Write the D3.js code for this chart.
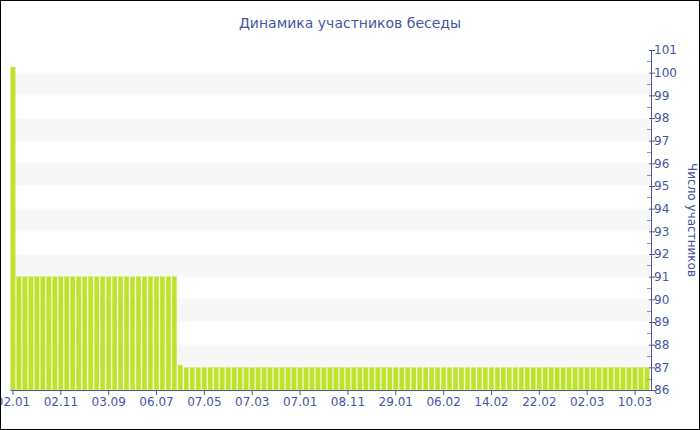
<!DOCTYPE html>
<html>
<head>
<meta charset="utf-8">
<script src="https://cdn.jsdelivr.net/npm/d3@7"></script>
<style>
  body { margin: 0; background: #fff; }
  svg { display: block; font-family: "DejaVu Sans", Verdana, sans-serif; }
</style>
</head>
<body>
<div id="chart"></div>
<script>
// Data
var title = "Динамика участников беседы";
var axisTitle = "Число участников";

var tickLabels = ["02.01", "02.11", "03.09", "06.07", "07.05", "07.03", "07.01",
    "08.11", "29.01", "06.02", "14.02", "22.02", "02.03", "10.03"];

var values = [100.25,
    91, 91, 91, 91, 91, 91, 91, 91, 91,
    91, 91, 91, 91, 91, 91, 91, 91, 91,
    91, 91, 91, 91, 91, 91, 91, 91, 91,
    87.1,
    87, 87, 87, 87, 87, 87, 87, 87, 87, 87, 87, 87, 87,
    87, 87, 87, 87, 87, 87, 87, 87, 87, 87, 87, 87, 87,
    87, 87, 87, 87, 87, 87, 87, 87, 87, 87, 87, 87, 87,
    87, 87, 87, 87, 87, 87, 87, 87, 87, 87, 87, 87, 87,
    87, 87, 87, 87, 87, 87, 87, 87, 87, 87, 87, 87, 87,
    87, 87, 87, 87, 87, 87, 87, 87, 87, 87, 87, 87, 87];

var yTicks = [86, 87, 88, 89, 90, 91, 92, 93, 94, 95, 96, 97, 98, 99, 100, 101];
var stripes = [[87, 88], [89, 90], [91, 92], [93, 94], [95, 96], [97, 98], [99, 100]];

var width = 700, height = 430;
var axisColor = "#4a5a9f";
var textColor = "#4556a0";

var svg = d3.select("#chart").append("svg")
    .attr("width", width)
    .attr("height", height);

var x = d3.scaleBand()
    .domain(d3.range(values.length))
    .range([10, 650]);

var y = d3.scaleLinear()
    .domain([86, 101])
    .range([390, 50]);

// alternating background bands
svg.selectAll("rect.stripe")
    .data(stripes)
    .enter()
    .append("rect")
    .attr("class", "stripe")
    .attr("x", 10)
    .attr("y", function(d) { return y(d[1]); })
    .attr("width", 640)
    .attr("height", function(d) { return y(d[0]) - y(d[1]); })
    .attr("fill", "#f7f7f7");

// bars
svg.selectAll("rect.bar")
    .data(values)
    .enter()
    .append("rect")
    .attr("class", "bar")
    .attr("x", function(d, i) { return x(i) + 0.5; })
    .attr("y", function(d) { return y(d); })
    .attr("width", x.bandwidth() - 1.2)
    .attr("height", function(d) { return y(86) - y(d); })
    .attr("fill", "#bfe22c")
    .attr("stroke", "#d8ec84")
    .attr("stroke-width", 0.5);

// x axis
var xAxis = d3.axisBottom(x)
    .tickValues(tickLabels.map(function(d, i) { return i * 8; }))
    .tickFormat(function(d) { return tickLabels[d / 8]; })
    .tickSize(5)
    .tickSizeOuter(0);
var gx = svg.append("g")
    .attr("transform", "translate(0,390)")
    .call(xAxis);
gx.select(".domain").attr("stroke", axisColor);
gx.selectAll(".tick line").attr("stroke", axisColor);
gx.selectAll(".tick text")
    .attr("fill", textColor)
    .attr("y", 5)
    .attr("dy", "0.9em")
    .style("font-size", "12px")
    .style("font-family", "DejaVu Sans, Verdana, sans-serif");

// y axis on the right, minor ticks at half steps
var minor = d3.range(86.5, 101, 1);
svg.selectAll("line.minor")
    .data(minor)
    .enter()
    .append("line")
    .attr("class", "minor")
    .attr("x1", 647)
    .attr("x2", 651)
    .attr("y1", function(d) { return Math.round(y(d)) + 0.5; })
    .attr("y2", function(d) { return Math.round(y(d)) + 0.5; })
    .attr("stroke", "#8c96c0");

var yAxis = d3.axisRight(y)
    .tickValues(yTicks)
    .tickFormat(d3.format("d"))
    .tickSize(4)
    .tickSizeOuter(0);
var gy = svg.append("g")
    .attr("transform", "translate(651,0)")
    .call(yAxis);
gy.select(".domain").attr("stroke", axisColor);
gy.selectAll(".tick line").attr("stroke", axisColor).attr("x1", -2);
gy.selectAll(".tick text")
    .attr("fill", textColor)
    .attr("x", 3)
    .style("font-size", "12px")
    .style("font-family", "DejaVu Sans, Verdana, sans-serif");

// titles
svg.append("text")
    .attr("x", 350)
    .attr("y", 28)
    .attr("text-anchor", "middle")
    .attr("fill", textColor)
    .style("font-size", "14px")
    .text(title);

svg.append("text")
    .attr("transform", "translate(688,220) rotate(90)")
    .attr("text-anchor", "middle")
    .attr("fill", textColor)
    .style("font-size", "12px")
    .text(axisTitle);

// outer frame
svg.append("rect")
    .attr("x", 0.5)
    .attr("y", 0.5)
    .attr("width", width - 1)
    .attr("height", height - 1)
    .attr("fill", "none")
    .attr("stroke", "#000");
</script>
</body>
</html>
